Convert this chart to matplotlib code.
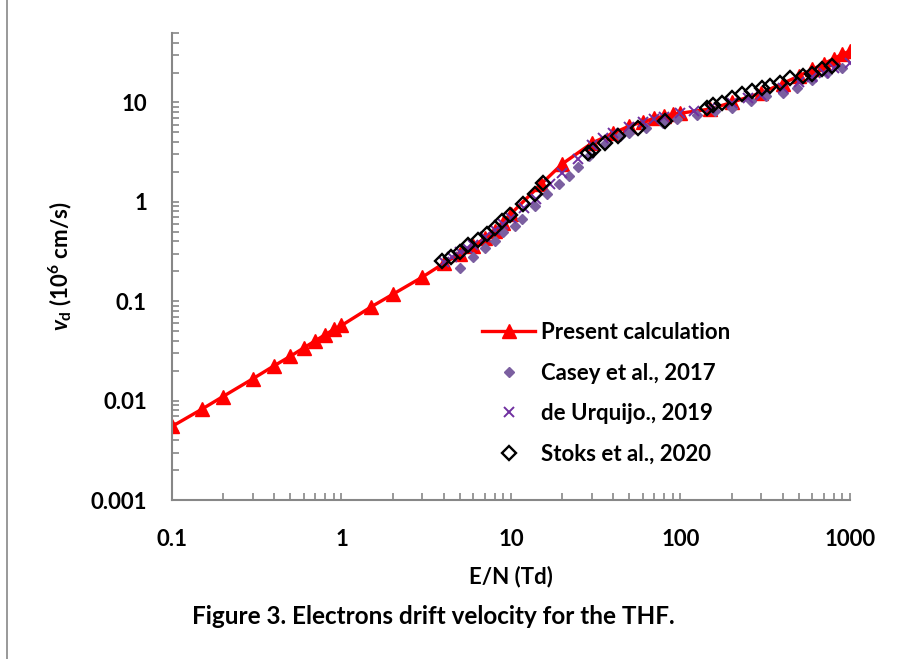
import matplotlib
matplotlib.use("Agg")
import matplotlib.pyplot as plt
from matplotlib.patches import Rectangle
from matplotlib.ticker import LogLocator, NullFormatter

# Present calculation
en_calc = [0.1, 0.15, 0.2, 0.3, 0.4, 0.5, 0.6, 0.7, 0.8, 0.9, 1, 1.5, 2, 3, 4, 5, 6, 7, 8, 9,
           10, 15, 20, 30, 40, 50, 60, 70, 80, 90, 100, 150, 200, 300, 400, 500, 600, 700,
           800, 900, 1000]
vd_calc = [0.0055, 0.0082, 0.011, 0.0166, 0.0224, 0.028, 0.034, 0.040, 0.046, 0.052, 0.057,
           0.088, 0.117, 0.175, 0.24, 0.30, 0.36, 0.43, 0.51, 0.61, 0.76, 1.5, 2.4, 3.9, 4.9,
           5.8, 6.4, 6.9, 7.3, 7.6, 7.8, 8.6, 10.0, 12.5, 15.5, 18.5, 21.5, 24.5, 27.5, 30.5, 33]

# Casey et al., 2017
en_casey = [5, 6, 7, 8, 9, 10.5, 11.6, 13.9, 16.4, 19.3, 22, 24.7, 29, 36, 44, 50, 63, 79, 95,
            125, 160, 200, 260, 320, 400, 490, 600, 730, 900]
vd_casey = [0.216, 0.276, 0.343, 0.407, 0.50, 0.577, 0.67, 0.90, 1.20, 1.52, 1.84, 2.25, 2.88,
            3.78, 4.58, 4.95, 5.56, 6.24, 6.74, 7.5, 8.2, 8.8, 10.3, 11.6, 12.5, 14, 17, 20, 22]

# de Urquijo, 2019
en_urq = [4, 4.5, 5, 5.5, 6, 7, 8, 9, 10, 12, 14, 17, 20, 25, 30, 35, 40, 50, 60, 70, 80, 100,
          120, 150, 200, 250, 300, 400, 500, 600, 700, 800, 1000]
vd_urq = [0.25, 0.28, 0.31, 0.34, 0.37, 0.44, 0.52, 0.60, 0.68, 0.86, 1.08, 1.5, 1.95, 2.7, 3.7,
          4.4, 4.9, 5.6, 6.3, 6.8, 7.2, 7.8, 8.2, 8.8, 9.8, 11, 12, 14, 16, 18, 20, 22, 25]

# Stoks et al., 2020
en_stoks = [3.9, 4.4, 5.0, 5.6, 6.4, 7.2, 8.0, 8.8, 9.9, 11.8, 13.9, 15.5, 28.6, 30.5, 36, 43,
            56, 81, 143, 156, 175, 200, 230, 263, 301, 337, 386, 443, 531, 600, 680, 780]
vd_stoks = [0.252, 0.28, 0.316, 0.37, 0.41, 0.48, 0.54, 0.64, 0.74, 0.96, 1.2, 1.56, 3.12, 3.3,
            3.93, 4.58, 5.56, 6.5, 8.85, 9.5, 9.9, 11.1, 12.3, 13, 14, 14.6, 15.8, 17.5, 18.6,
            19.5, 21.5, 23.2]

xticks = [0.1, 1, 10, 100, 1000]
xticklabels = ["0.1", "1", "10", "100", "1000"]
yticks = [0.001, 0.01, 0.1, 1, 10]
yticklabels = ["0.001", "0.01", "0.1", "1", "10"]

plt.rcParams["font.family"] = "Lato"
plt.rcParams["font.weight"] = "bold"
plt.rcParams["axes.labelweight"] = "bold"
plt.rcParams["mathtext.fontset"] = "custom"
plt.rcParams["mathtext.rm"] = "Lato:bold"
plt.rcParams["mathtext.it"] = "Lato:bold:italic"
plt.rcParams["mathtext.bf"] = "Lato:bold"

W, H = 904, 659
fig = plt.figure(figsize=(W / 100, H / 100), dpi=100)
ax = fig.add_axes([172 / W, 1 - 500 / H, (850 - 172) / W, (500 - 33) / H])

gray = "#878787"
ax.plot(en_calc, vd_calc, color="#ff0000", lw=2.4, marker="^", ms=9.5,
        label="Present calculation", zorder=2)
ax.plot(en_casey, vd_casey, ls="none", marker="D", ms=5.5, color="#7b5fa0",
        label="Casey et al., 2017", zorder=3)
ax.plot(en_urq, vd_urq, ls="none", marker="x", ms=7, mew=1.4, color="#7030a0",
        label="de Urquijo., 2019", zorder=4)
ax.plot(en_stoks, vd_stoks, ls="none", marker="D", ms=7.5, mew=1.7, mfc="none", mec="black",
        label="Stoks et al., 2020", zorder=5)

ax.set_xscale("log")
ax.set_yscale("log")
ax.set_xlim(0.1, 1000)
ax.set_ylim(0.001, 50)
ax.set_xticks(xticks, xticklabels)
ax.set_yticks(yticks, yticklabels)
ax.xaxis.set_minor_locator(LogLocator(base=10, subs=range(2, 10)))
ax.yaxis.set_minor_locator(LogLocator(base=10, subs=range(2, 10)))
ax.xaxis.set_minor_formatter(NullFormatter())
ax.yaxis.set_minor_formatter(NullFormatter())

for s in ["top", "right"]:
    ax.spines[s].set_visible(False)
for s in ["left", "bottom"]:
    ax.spines[s].set_color(gray)
    ax.spines[s].set_linewidth(1.5)
ax.tick_params(which="both", direction="in", color=gray, width=1.2, labelsize=16)
ax.tick_params(which="both", length=5)
ax.tick_params(axis="x", which="major", pad=21)
ax.tick_params(axis="y", which="major", pad=18)
for lab in ax.get_xticklabels() + ax.get_yticklabels():
    lab.set_fontweight("bold")

ax.set_xlabel("E/N (Td)", fontsize=16, labelpad=11)
ax.set_ylabel(r"$v_{\mathrm{d}}$ (10$^{6}$ cm/s)", fontsize=16, labelpad=12)

ax.legend(loc="upper left", bbox_to_anchor=(482 / W, 1 - 322 / H),
          bbox_transform=fig.transFigure, frameon=False, fontsize=16,
          handlelength=2.4, handletextpad=0.27, labelspacing=0.88, borderpad=0,
          borderaxespad=0)

fig.text(433 / W, 1 - 616 / H, "Figure 3. Electrons drift velocity for the THF.",
         ha="center", va="center", fontsize=17.5, fontweight="bold")

# outer frame (cut by the image edges)
fig.add_artist(Rectangle((7 / W, -0.1), 1.2, 1.1 + (1 - 6 / H), fill=False,
                         edgecolor=gray, lw=1.2, transform=fig.transFigure))

fig.savefig("out.png", dpi=100)
